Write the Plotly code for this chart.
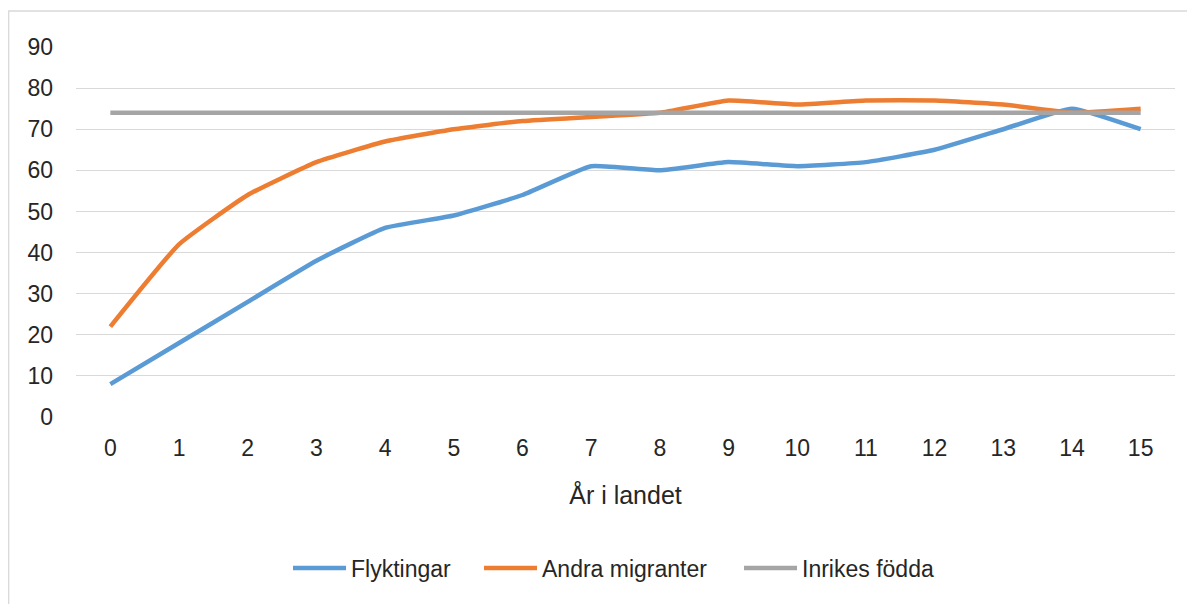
import plotly.graph_objects as go

years = list(range(16))
year_labels = [str(y) for y in years]
flyktingar = [8, 18, 28, 38, 46, 49, 54, 61, 60, 62, 61, 62, 65, 70, 75, 70]
andra_migranter = [22, 42, 54, 62, 67, 70, 72, 73, 74, 77, 76, 77, 77, 76, 74, 75]
inrikes_fodda = [74] * 16

series = [
    ("Flyktingar", flyktingar, "#5B9BD5", "legend"),
    ("Andra migranter", andra_migranter, "#ED7D31", "legend2"),
    ("Inrikes födda", inrikes_fodda, "#A5A5A5", "legend3"),
]

font_family = "Liberation Sans, Arial, sans-serif"
fig = go.Figure()
for name, vals, color, leg in series:
    fig.add_trace(go.Scatter(
        x=year_labels, y=vals, name=name, mode="lines", legend=leg,
        line=dict(color=color, width=4.5, shape="spline", smoothing=0.4),
    ))

leg_common = dict(orientation="h", y=-0.408, yanchor="middle", xanchor="left",
                  font=dict(size=23, family=font_family, color="#262626"),
                  itemwidth=53, bgcolor="rgba(0,0,0,0)", borderwidth=0)

fig.update_layout(
    width=1195, height=604,
    margin=dict(l=68, r=28, t=39, b=195),
    paper_bgcolor="white", plot_bgcolor="white",
    font=dict(family=font_family, size=23, color="#262626"),
    showlegend=True,
    legend=dict(x=0.1929, **leg_common),
    legend2=dict(x=0.3667, **leg_common),
    legend3=dict(x=0.6033, **leg_common),
    xaxis=dict(
        type="category", range=[-0.5, 15.5],
        showgrid=False, zeroline=False, showline=False, ticks="",
        tickfont=dict(size=23), ticklabelstandoff=15,
        title=dict(text="År i landet", font=dict(size=25), standoff=26),
    ),
    yaxis=dict(
        range=[0, 90], dtick=10, showgrid=True, gridcolor="#D9D9D9", gridwidth=1.3,
        zeroline=False, showline=False, ticks="", tickfont=dict(size=23),
        ticklabelstandoff=22,
    ),
    shapes=[dict(type="rect", xref="paper", yref="paper",
                 x0=(0.7 - 68) / 1099, x1=1.2, y0=-0.8, y1=1.0973,
                 line=dict(color="#D9D9D9", width=1.3), layer="below")],
)

fig.write_html("out.html")
